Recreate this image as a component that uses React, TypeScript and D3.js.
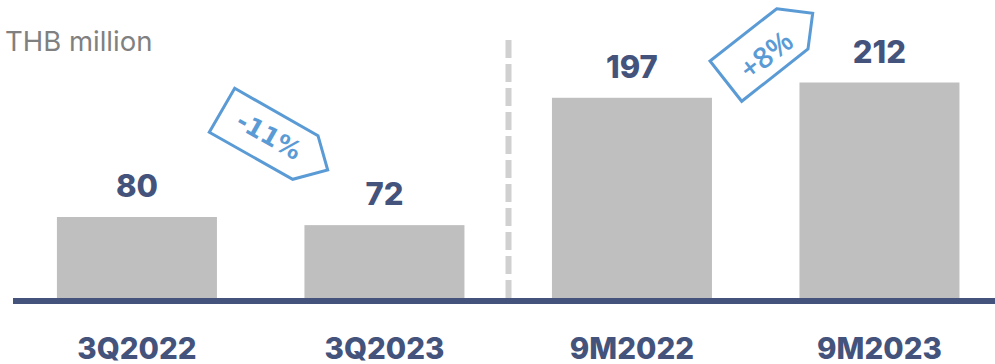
import React from "react";
import * as d3 from "d3";

const categories = ["3Q2022", "3Q2023", "9M2022", "9M2023"];
const revenue = [80, 72, 197, 212];

const WIDTH = 995;
const HEIGHT = 364;
const BASELINE = 298.5;
const NAVY = "#44537b";
const BAR_GREY = "#bfbfbf";
const TAG_BLUE = "#5b9bd5";

const x = d3.scaleBand<string>().domain(categories).range([0, 1016.4]).paddingInner(0.3535).paddingOuter(0.23);
const y = d3.scaleLinear().domain([0, 212]).range([BASELINE, 82.5]);

// Price-tag outlines, each with its rotated caption.
const tags = [
  {
    label: "-11%",
    outline: [[234.7, 88.3], [318, 135.7], [327.7, 170], [292.7, 179.3], [209.3, 132.3]] as [number, number][],
    cx: 269, cy: 136, angle: 29.6, size: 25, family: "'DejaVu Sans', sans-serif",
  },
  {
    label: "+8%",
    outline: [[776.7, 8.7], [812.7, 13.3], [808, 49], [741.7, 101.3], [710, 61]] as [number, number][],
    cx: 765.5, cy: 54, angle: -38, size: 29, family: "'Open Sans', sans-serif",
  },
];

const outlinePath = d3.line().curve(d3.curveLinearClosed);
const labelFont = "Inter, 'Liberation Sans', sans-serif";

export default function App() {
  return (
    <svg
      width={WIDTH}
      height={HEIGHT}
      viewBox={`0 0 ${WIDTH} ${HEIGHT}`}
      style={{ position: "absolute", left: 0, top: 0, background: "#fff" }}
    >
      <text x={5} y={51} fontFamily={labelFont} fontSize={27.5} fill="#808080">
        THB million
      </text>

      {/* Divider between the quarterly and nine-month groups */}
      <line x1={508.5} x2={508.5} y1={40} y2={298} stroke="#d0d0d0" strokeWidth={6} strokeDasharray="18 6" />

      {categories.map((c, i) => {
        const cx = x(c)! + x.bandwidth() / 2;
        return (
          <g key={c}>
            <rect x={x(c)} y={y(revenue[i])} width={x.bandwidth()} height={BASELINE - y(revenue[i])} fill={BAR_GREY} />
            <text x={cx} y={y(revenue[i]) - 20} textAnchor="middle" fontFamily={labelFont} fontWeight={800} fontSize={31} fill={NAVY}>
              {revenue[i]}
            </text>
            <text x={cx} y={358.5} textAnchor="middle" fontFamily={labelFont} fontWeight={800} fontSize={29.5} fill={NAVY}>
              {c}
            </text>
          </g>
        );
      })}

      <rect x={13} y={298} width={982} height={6} fill={NAVY} />

      {tags.map((t) => (
        <g key={t.label}>
          <path d={outlinePath(t.outline)!} fill="#fff" stroke={TAG_BLUE} strokeWidth={3} />
          <text
            transform={`translate(${t.cx},${t.cy}) rotate(${t.angle})`}
            textAnchor="middle"
            dominantBaseline="central"
            fontFamily={t.family}
            fontWeight={600}
            fontSize={t.size}
            fill={TAG_BLUE}
          >
            {t.label}
          </text>
        </g>
      ))}
    </svg>
  );
}
